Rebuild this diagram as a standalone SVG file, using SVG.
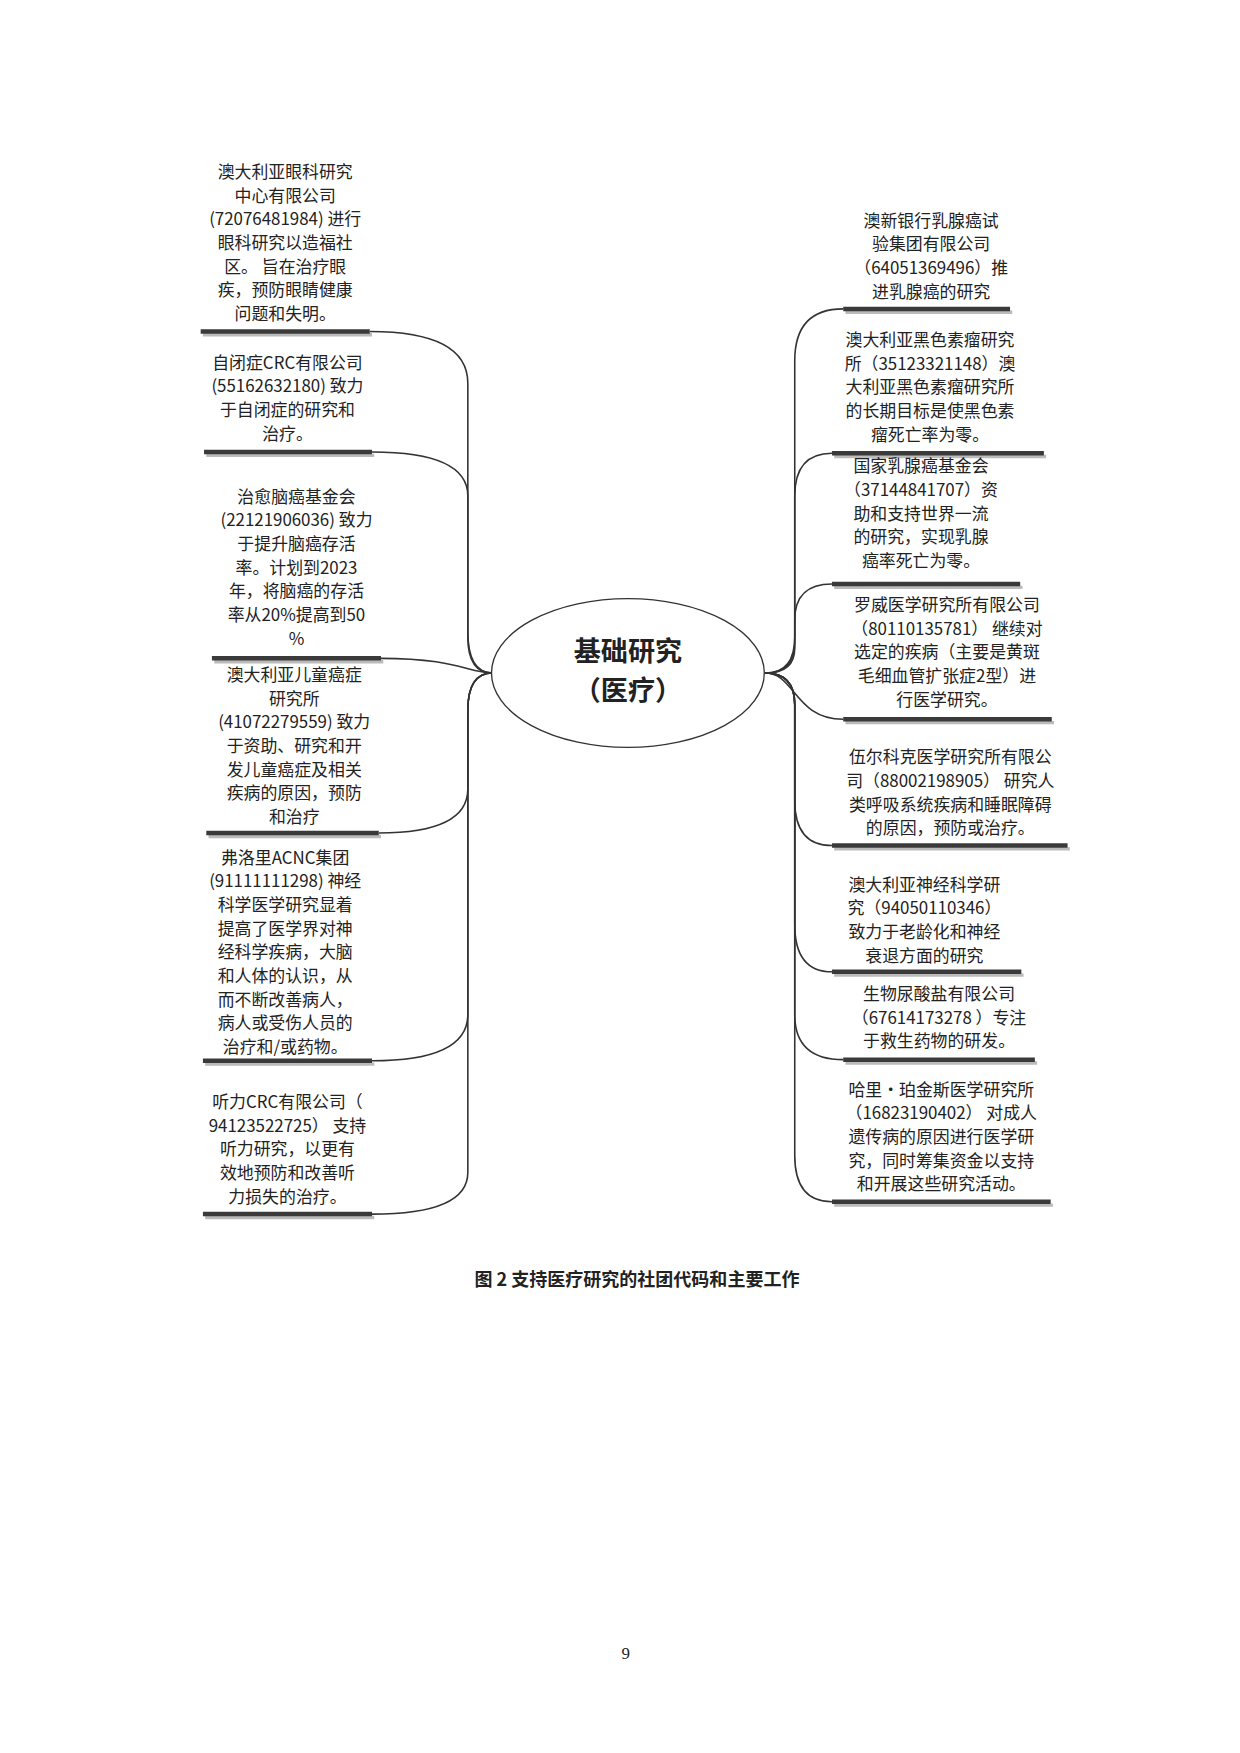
<svg xmlns="http://www.w3.org/2000/svg" width="1240" height="1753" viewBox="0 0 1240 1753">
<style>
text{font-family:"Noto Sans CJK SC","Liberation Sans",sans-serif;font-size:15px;fill:#222;text-anchor:middle}
.bar{stroke:#3a3a3a;stroke-width:4;fill:none}
.sh{stroke:#bbb;stroke-width:3;fill:none}
.c{stroke:#333;stroke-width:1.4;fill:none}
</style>
<rect width="1240" height="1753" fill="#fff"/>
<g transform="scale(1.1273)">
<g id="connectors">
<path class="c" d="M328 294 Q415 294 415 340 L415 560 Q415 597 437 597"/>
<path class="c" d="M330 401 Q415 401 415 440 L415 565 Q415 597 437 597"/>
<path class="c" d="M338 584 C405 584 415 597 437 597"/>
<path class="c" d="M336 739 Q415 739 415 700 L415 630 Q415 597 437 597"/>
<path class="c" d="M330 941 Q415 941 415 900 L415 630 Q415 597 437 597"/>
<path class="c" d="M330 1077 Q415 1077 415 1040 L415 630 Q415 597 437 597"/>
<path class="c" d="M748 274 Q705 274 705 320 L705 565 Q705 597 679 597"/>
<path class="c" d="M738 402 Q705 402 705 440 L705 570 Q705 597 679 597"/>
<path class="c" d="M738 518 Q705 518 705 550 L705 575 Q705 597 679 597"/>
<path class="c" d="M748 638 C705 638 705 597 679 597"/>
<path class="c" d="M738 750 Q705 750 705 710 L705 625 Q705 597 679 597"/>
<path class="c" d="M738 862 Q705 862 705 820 L705 625 Q705 597 679 597"/>
<path class="c" d="M748 940 Q705 940 705 900 L705 625 Q705 597 679 597"/>
<path class="c" d="M738 1066 Q705 1066 705 1025 L705 625 Q705 597 679 597"/>
</g>
<g id="center">
<ellipse cx="557" cy="597" rx="121" ry="66" fill="#fff" stroke="#333" stroke-width="1.2"/>
<text x="557" y="586" style="font-size:24px;font-weight:bold">基础研究</text>
<text x="557" y="621" style="font-size:24px;font-weight:bold">（医疗）</text>
</g>
<g id="L1"><path class="sh" d="M180 297 H330"/><path class="bar" d="M178 294 H328"/>
<text x="253" y="158">澳大利亚眼科研究</text><text x="253" y="179">中心有限公司</text><text x="253" y="200">(72076481984) 进行</text><text x="253" y="221">眼科研究以造福社</text><text x="253" y="242">区。 旨在治疗眼</text><text x="253" y="263">疾，预防眼睛健康</text><text x="253" y="284">问题和失明。</text></g>
<g id="L2"><path class="sh" d="M183 404 H332"/><path class="bar" d="M181 401 H330"/>
<text x="255" y="327">自闭症CRC有限公司</text><text x="255" y="348">(55162632180) 致力</text><text x="255" y="369">于自闭症的研究和</text><text x="255" y="390">治疗。</text></g>
<g id="L3"><path class="sh" d="M190 587 H340"/><path class="bar" d="M188 584 H338"/>
<text x="263" y="446">治愈脑癌基金会</text><text x="263" y="467">(22121906036) 致力</text><text x="263" y="488">于提升脑癌存活</text><text x="263" y="509">率。计划到2023</text><text x="263" y="530">年，将脑癌的存活</text><text x="263" y="551">率从20%提高到50</text><text x="263" y="572">%</text></g>
<g id="L4"><path class="sh" d="M185 742 H338"/><path class="bar" d="M183 739 H336"/>
<text x="261" y="604">澳大利亚儿童癌症</text><text x="261" y="625">研究所</text><text x="261" y="646">(41072279559) 致力</text><text x="261" y="667">于资助、研究和开</text><text x="261" y="688">发儿童癌症及相关</text><text x="261" y="709">疾病的原因，预防</text><text x="261" y="730">和治疗</text></g>
<g id="L5"><path class="sh" d="M182 944 H332"/><path class="bar" d="M180 941 H330"/>
<text x="253" y="766">弗洛里ACNC集团</text><text x="253" y="787">(91111111298) 神经</text><text x="253" y="808">科学医学研究显着</text><text x="253" y="829">提高了医学界对神</text><text x="253" y="850">经科学疾病，大脑</text><text x="253" y="871">和人体的认识，从</text><text x="253" y="892">而不断改善病人，</text><text x="253" y="913">病人或受伤人员的</text><text x="253" y="934">治疗和/或药物。</text></g>
<g id="L6"><path class="sh" d="M182 1080 H332"/><path class="bar" d="M180 1077 H330"/>
<text x="255" y="983">听力CRC有限公司（</text><text x="255" y="1004">94123522725） 支持</text><text x="255" y="1025">听力研究，以更有</text><text x="255" y="1046">效地预防和改善听</text><text x="255" y="1067">力损失的治疗。</text></g>
<g id="R1"><path class="sh" d="M750 277 H898"/><path class="bar" d="M748 274 H896"/>
<text x="826" y="201">澳新银行乳腺癌试</text><text x="826" y="222">验集团有限公司</text><text x="826" y="243">（64051369496）推</text><text x="826" y="264">进乳腺癌的研究</text></g>
<g id="R2"><path class="sh" d="M740 405 H928"/><path class="bar" d="M738 402 H926"/>
<text x="825" y="307">澳大利亚黑色素瘤研究</text><text x="825" y="328">所（35123321148）澳</text><text x="825" y="349">大利亚黑色素瘤研究所</text><text x="825" y="370">的长期目标是使黑色素</text><text x="825" y="391">瘤死亡率为零。</text></g>
<g id="R3"><path class="sh" d="M740 521 H907"/><path class="bar" d="M738 518 H905"/>
<text x="817" y="419">国家乳腺癌基金会</text><text x="817" y="440">（37144841707）资</text><text x="817" y="461">助和支持世界一流</text><text x="817" y="482">的研究，实现乳腺</text><text x="817" y="503">癌率死亡为零。</text></g>
<g id="R4"><path class="sh" d="M750 641 H935"/><path class="bar" d="M748 638 H933"/>
<text x="840" y="542">罗威医学研究所有限公司</text><text x="840" y="563">（80110135781） 继续对</text><text x="840" y="584">选定的疾病（主要是黄斑</text><text x="840" y="605">毛细血管扩张症2型）进</text><text x="840" y="626">行医学研究。</text></g>
<g id="R5"><path class="sh" d="M740 753 H949"/><path class="bar" d="M738 750 H947"/>
<text x="843" y="677">伍尔科克医学研究所有限公</text><text x="843" y="698">司（88002198905） 研究人</text><text x="843" y="719">类呼吸系统疾病和睡眠障碍</text><text x="843" y="740">的原因，预防或治疗。</text></g>
<g id="R6"><path class="sh" d="M740 865 H908"/><path class="bar" d="M738 862 H906"/>
<text x="820" y="790">澳大利亚神经科学研</text><text x="820" y="811">究（94050110346）</text><text x="820" y="832">致力于老龄化和神经</text><text x="820" y="853">衰退方面的研究</text></g>
<g id="R7"><path class="sh" d="M750 943 H920"/><path class="bar" d="M748 940 H918"/>
<text x="833" y="887">生物尿酸盐有限公司</text><text x="833" y="908">（67614173278 ）专注</text><text x="833" y="929">于救生药物的研发。</text></g>
<g id="R8"><path class="sh" d="M740 1069 H934"/><path class="bar" d="M738 1066 H932"/>
<text x="835" y="972">哈里·珀金斯医学研究所</text><text x="835" y="993">（16823190402） 对成人</text><text x="835" y="1014">遗传病的原因进行医学研</text><text x="835" y="1035">究，同时筹集资金以支持</text><text x="835" y="1056">和开展这些研究活动。</text></g>
<text x="565" y="1141" style="font-size:16px;font-weight:bold">图 2    支持医疗研究的社团代码和主要工作</text>
<text x="555" y="1472" style="font-family:'Liberation Serif',serif;font-size:15px">9</text>
</g>
</svg>
